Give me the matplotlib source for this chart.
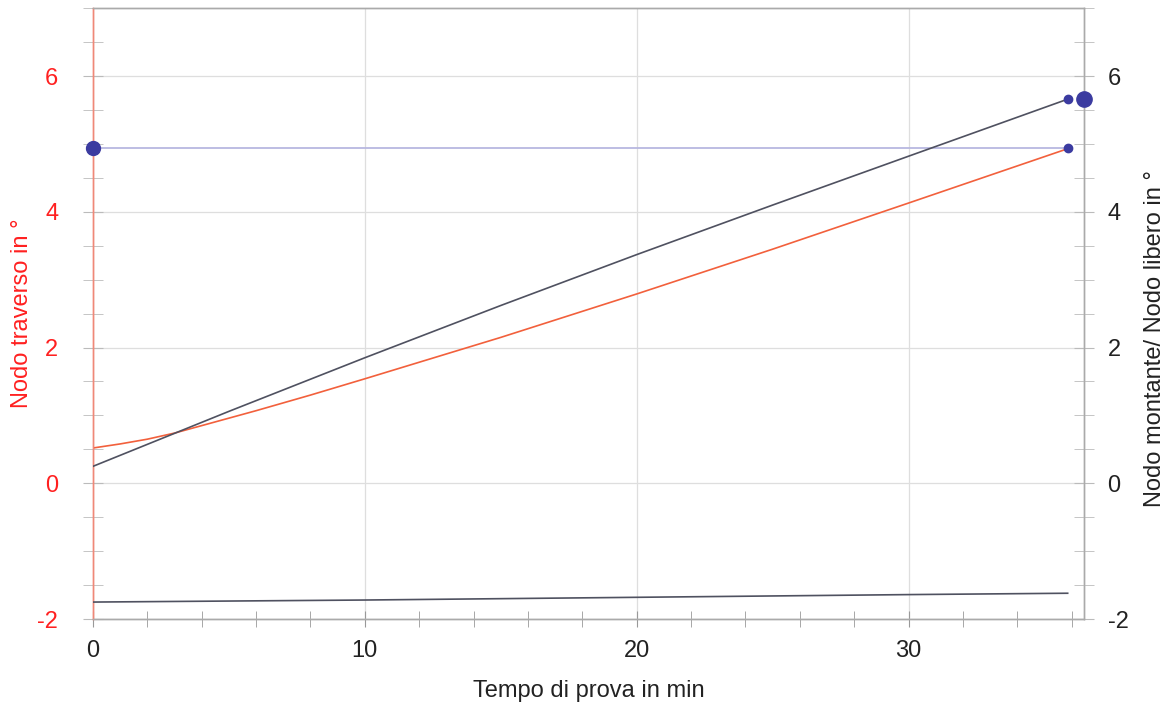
import matplotlib.pyplot as plt
from matplotlib.ticker import MultipleLocator

plt.rcParams['font.family'] = ['Liberation Sans', 'DejaVu Sans']
plt.rcParams['axes.unicode_minus'] = False

# Nodo traverso (left axis, red)
t_traverso = [0, 1, 2, 3, 4, 6, 8, 10, 15, 20, 25, 30, 35.85]
traverso = [0.52, 0.58, 0.65, 0.74, 0.85, 1.07, 1.30, 1.54, 2.15, 2.79, 3.45, 4.13, 4.93]

# Nodo montante (right axis, dark)
t_montante = [0, 5, 10, 15, 20, 25, 30, 35.85]
montante = [0.25, 1.06, 1.85, 2.62, 3.37, 4.10, 4.82, 5.66]

# Nodo libero (right axis, bottom line)
t_libero = [0, 10, 20, 30, 35.85]
libero = [-1.75, -1.72, -1.68, -1.64, -1.62]

# reference level (blue)
t_ref = [0, 35.85]
ref = [4.94, 4.94]

x_ticks = [0, 10, 20, 30]
y_ticks = [-2, 0, 2, 4, 6]

fig = plt.figure(figsize=(11.71, 7.04), dpi=100)
ax = fig.add_axes([0.0794, 0.1207, 0.8463, 0.8676])
ax2 = ax.twinx()

red = '#f2603c'
dark = '#4f5160'
dot = '#3b3ba0'

ax.plot(t_traverso, traverso, color=red, lw=1.2, zorder=3)
ax2.plot(t_montante, montante, color=dark, lw=1.2, zorder=3)
ax2.plot(t_libero, libero, color=dark, lw=1.2, zorder=3)
ax2.plot(t_ref, ref, color='#b8b8e0', lw=1.3, zorder=2)

ax2.plot(t_montante[-1], montante[-1], 'o', color=dot, ms=6, zorder=4)
ax2.plot(t_ref[-1], ref[-1], 'o', color=dot, ms=6, zorder=4)
ax2.plot(0, ref[0], 'o', color=dot, ms=10, clip_on=False, zorder=5)
ax2.plot(36.45, montante[-1], 'o', color=dot, ms=11, clip_on=False, zorder=5)

for a in (ax, ax2):
    a.set_xlim(0, 36.45)
    a.set_ylim(-2, 7)
    a.set_yticks(y_ticks)
    a.yaxis.set_minor_locator(MultipleLocator(0.5))

ax.set_xticks(x_ticks)
ax.xaxis.set_minor_locator(MultipleLocator(2))
ax.grid(True, which='major', color='#dedede', lw=0.9)
ax.set_axisbelow(True)

ax.tick_params(axis='x', which='both', direction='inout', length=12, colors='#999999',
               labelcolor='#222222', labelsize=17, pad=9)
ax.tick_params(axis='y', which='both', direction='inout', length=14, colors='#bbbbbb',
               labelcolor='#ff2020', labelsize=17, pad=18)
ax2.tick_params(axis='y', which='both', direction='inout', length=14, colors='#bbbbbb',
                labelcolor='#222222', labelsize=17, pad=10)

for a in (ax, ax2):
    for s in a.spines.values():
        s.set_color('#aaaaaa')
        s.set_linewidth(1.0)
ax.spines['left'].set_color('#f08878')
ax2.spines['left'].set_color('#f08878')

ax.set_xlabel('Tempo di prova in min', fontsize=17, color='#222222')
ax.xaxis.set_label_coords(0.5, -0.1)
ax.set_ylabel('Nodo traverso in °', fontsize=17, color='#ff2020')
ax.yaxis.set_label_coords(-0.061, 0.5)
ax2.set_ylabel('Nodo montante/ Nodo libero in °', fontsize=17, color='#222222')
ax2.yaxis.set_label_coords(1.061, 0.46)

fig.savefig('out.png', dpi=100)
